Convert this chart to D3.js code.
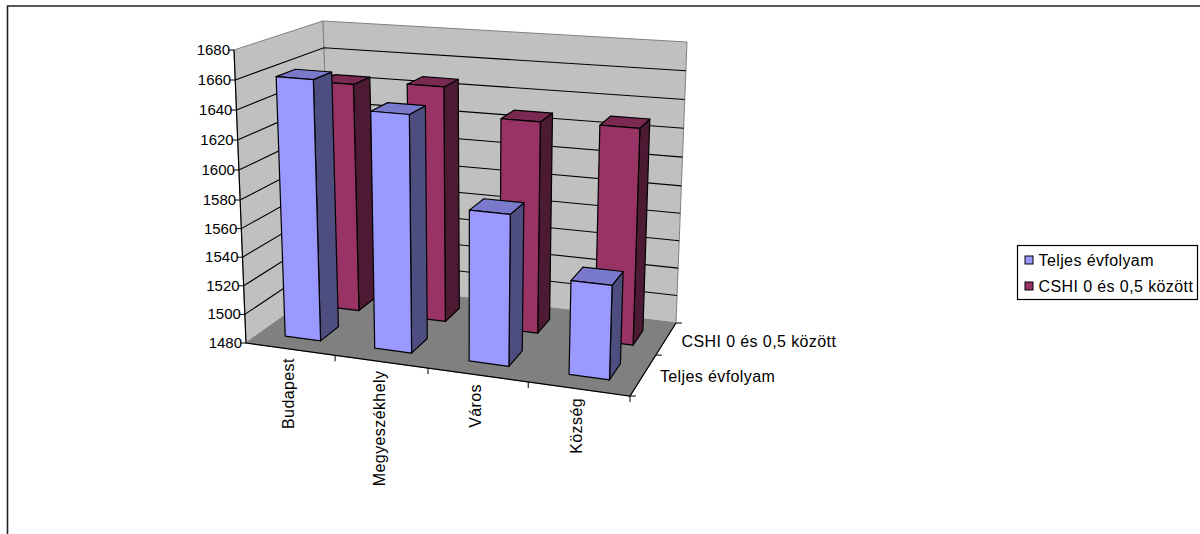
<!DOCTYPE html>
<html>
<head>
<meta charset="utf-8">
<script src="https://cdn.jsdelivr.net/npm/d3@7"></script>
<style>
  body { margin: 0; background: #fff; }
  text { font-family: "Liberation Sans", Arial, sans-serif; font-size: 16px; letter-spacing: 0.4px; fill: #000; }
  text.ylabel { font-size: 15px; letter-spacing: 0; }
</style>
</head>
<body>
<div id="chart"></div>
<script>
var w = 1200;
var h = 534;

var categories = ["Budapest", "Megyeszékhely", "Város", "Község"];
var seriesNames = ["Teljes évfolyam", "CSHI 0 és 0,5 között"];
var teljes = [1660, 1642, 1583, 1543];
var cshi = [1645, 1648, 1629, 1630];
var yTicks = [1480, 1500, 1520, 1540, 1560, 1580, 1600, 1620, 1640, 1660, 1680];

var faces = [
  { front: "#9999ff", side: "#4d4d80", top: "#7a7acc" },
  { front: "#993366", side: "#4d1a33", top: "#7a2952" }
];

// box corners in pixels: [front-left, back-left, back-right, front-right]
var floorQuad = [[246, 343], [332, 282], [676, 323], [630, 396]];
var ceilQuad = [[234, 50], [323, 21], [687, 42], [640, 81]];

// scales work in 0..1 box units, the warp scales fake the perspective
var xBand = d3.scaleBand().domain(categories).range([0, 1]).paddingInner(0.6).paddingOuter(0.28);
var xPoint = d3.scaleBand().domain(categories).range([0, 1]);
var zBand = d3.scaleBand().domain(seriesNames).range([0, 1]).paddingInner(0.6).paddingOuter(0.3);
var zPoint = d3.scaleBand().domain(seriesNames).range([0, 1]);
var xWarp = d3.scaleLinear().domain([0, 0.25, 0.5, 0.75, 1]).range([0, 0.232, 0.474, 0.735, 1]);
var zWarp = d3.scaleLinear().domain([0, 0.5, 0.65, 1]).range([0, 0.56, 0.65, 1]);
var y = d3.scaleLinear().domain([1480, 1580, 1680]).range([0, 0.488, 1]);

function bilerp(q, u, z) {
  var a = [d3.interpolate(q[0][0], q[3][0])(u), d3.interpolate(q[0][1], q[3][1])(u)];
  var b = [d3.interpolate(q[1][0], q[2][0])(u), d3.interpolate(q[1][1], q[2][1])(u)];
  return [a[0] + (b[0] - a[0]) * z, a[1] + (b[1] - a[1]) * z];
}

// x and z in box units, value in data units
function project(x, z, value) {
  var u = xWarp(x), d = zWarp(z), v = y(value);
  var lo = bilerp(floorQuad, u, d), hi = bilerp(ceilQuad, u, d);
  return [lo[0] + (hi[0] - lo[0]) * v, lo[1] + (hi[1] - lo[1]) * v];
}

var line = d3.line();

var svg = d3.select("#chart").append("svg")
  .attr("width", w)
  .attr("height", h)
  .style("display", "block");

svg.append("path")
  .attr("d", "M7.5,534V6H1200")
  .attr("fill", "none")
  .attr("stroke", "#222")
  .attr("stroke-width", 1.6);

var yMin = yTicks[0], yMax = yTicks[yTicks.length - 1];

// walls and floor
svg.append("path")
  .attr("d", line([project(0, 0, yMin), project(0, 1, yMin), project(0, 1, yMax), project(0, 0, yMax)]) + "Z")
  .attr("fill", "#c0c0c0").attr("stroke", "#808080");
svg.append("path")
  .attr("d", line([project(0, 1, yMin), project(1, 1, yMin), project(1, 1, yMax), project(0, 1, yMax)]) + "Z")
  .attr("fill", "#c0c0c0").attr("stroke", "#808080");
svg.append("path")
  .attr("d", line([project(0, 0, yMin), project(1, 0, yMin), project(1, 1, yMin), project(0, 1, yMin)]) + "Z")
  .attr("fill", "#808080").attr("stroke", "#808080");

// gridlines
svg.selectAll("path.grid")
  .data(yTicks.slice(1, -1))
  .enter()
  .append("path")
  .attr("class", "grid")
  .attr("d", function(d) { return line([project(0, 0, d), project(0, 1, d), project(1, 1, d)]); })
  .attr("fill", "none")
  .attr("stroke", "#000")
  .attr("stroke-width", 1.1);

// axes
var axisColor = "#000";
svg.append("path")
  .attr("d", line([project(0, 0, yMax), project(0, 0, yMin), project(1, 0, yMin), project(1, 1, yMin)]))
  .attr("fill", "none").attr("stroke", axisColor).attr("stroke-width", 1.2);

svg.selectAll("line.ytick")
  .data(yTicks)
  .enter()
  .append("line")
  .attr("class", "ytick")
  .attr("x1", function(d) { return project(0, 0, d)[0] - 6; })
  .attr("x2", function(d) { return project(0, 0, d)[0]; })
  .attr("y1", function(d) { return project(0, 0, d)[1]; })
  .attr("y2", function(d) { return project(0, 0, d)[1]; })
  .attr("stroke", axisColor);

svg.selectAll("text.ylabel")
  .data(yTicks)
  .enter()
  .append("text")
  .attr("class", "ylabel")
  .attr("text-anchor", "end")
  .attr("x", function(d) { return project(0, 0, d)[0] - 4; })
  .attr("y", function(d) { return project(0, 0, d)[1] + 5; })
  .text(function(d) { return d; });

// category ticks along the front edge
svg.selectAll("line.xtick")
  .data(categories.slice(1).map(function(c) { return xPoint(c); }).concat([1]))
  .enter()
  .append("line")
  .attr("class", "xtick")
  .attr("x1", function(d) { return project(d, 0, yMin)[0]; })
  .attr("x2", function(d) { return project(d, 0, yMin)[0]; })
  .attr("y1", function(d) { return project(d, 0, yMin)[1]; })
  .attr("y2", function(d) { return project(d, 0, yMin)[1] + 6; })
  .attr("stroke", axisColor);

svg.selectAll("text.xlabel")
  .data(categories)
  .enter()
  .append("text")
  .attr("class", "xlabel")
  .attr("text-anchor", "end")
  .attr("transform", function(d) {
    var p = project(xPoint(d) + xPoint.bandwidth() / 2, 0, yMin);
    return "translate(" + (p[0] + 3) + "," + (p[1] + 9) + ") rotate(-90)";
  })
  .text(function(d) { return d; });

// series ticks along the right edge
svg.selectAll("line.ztick")
  .data([0, 0.5, 1])
  .enter()
  .append("line")
  .attr("class", "ztick")
  .attr("x1", function(d) { return project(1, d, yMin)[0]; })
  .attr("x2", function(d) { return project(1, d, yMin)[0] + 6; })
  .attr("y1", function(d) { return project(1, d, yMin)[1]; })
  .attr("y2", function(d) { return project(1, d, yMin)[1]; })
  .attr("stroke", axisColor);

svg.selectAll("text.zlabel")
  .data(seriesNames)
  .enter()
  .append("text")
  .attr("class", "zlabel")
  .attr("x", function(d) { return project(1, zPoint(d) + zPoint.bandwidth() / 2, yMin)[0] + 17; })
  .attr("y", function(d) { return project(1, zPoint(d) + zPoint.bandwidth() / 2, yMin)[1] + 6; })
  .text(function(d) { return d; });

// bars, back series first
function drawBars(name, values, colors) {
  var z0 = zBand(name), z1 = z0 + zBand.bandwidth();
  var g = svg.append("g")
    .attr("stroke", "#000")
    .attr("stroke-width", 1.2)
    .attr("stroke-linejoin", "round");

  var bars = g.selectAll("g")
    .data(values)
    .enter()
    .append("g");

  function xs(i) {
    var x0 = xBand(categories[i]);
    return [x0, x0 + xBand.bandwidth()];
  }

  bars.append("path")
    .attr("fill", colors.side)
    .attr("d", function(d, i) {
      var x1 = xs(i)[1];
      return line([project(x1, z0, yMin), project(x1, z1, yMin), project(x1, z1, d), project(x1, z0, d)]) + "Z";
    });
  bars.append("path")
    .attr("fill", colors.top)
    .attr("d", function(d, i) {
      var x = xs(i);
      return line([project(x[0], z0, d), project(x[1], z0, d), project(x[1], z1, d), project(x[0], z1, d)]) + "Z";
    });
  bars.append("path")
    .attr("fill", colors.front)
    .attr("d", function(d, i) {
      var x = xs(i);
      return line([project(x[0], z0, yMin), project(x[1], z0, yMin), project(x[1], z0, d), project(x[0], z0, d)]) + "Z";
    });
}

drawBars(seriesNames[1], cshi, faces[1]);
drawBars(seriesNames[0], teljes, faces[0]);

// legend
var legend = svg.append("g").attr("transform", "translate(1017.5,245.5)");
legend.append("rect")
  .attr("width", 180)
  .attr("height", 54)
  .attr("fill", "#fff")
  .attr("stroke", "#000")
  .attr("stroke-width", 1.2);

var items = legend.selectAll("g")
  .data(seriesNames)
  .enter()
  .append("g")
  .attr("transform", function(d, i) { return "translate(0," + (i * 26) + ")"; });

items.append("rect")
  .attr("x", 7.5)
  .attr("y", 10.5)
  .attr("width", 8)
  .attr("height", 8)
  .attr("fill", function(d, i) { return faces[i].front; })
  .attr("stroke", "#000");

items.append("text")
  .attr("x", 21)
  .attr("y", 20)
  .text(function(d) { return d; });
</script>
</body>
</html>
